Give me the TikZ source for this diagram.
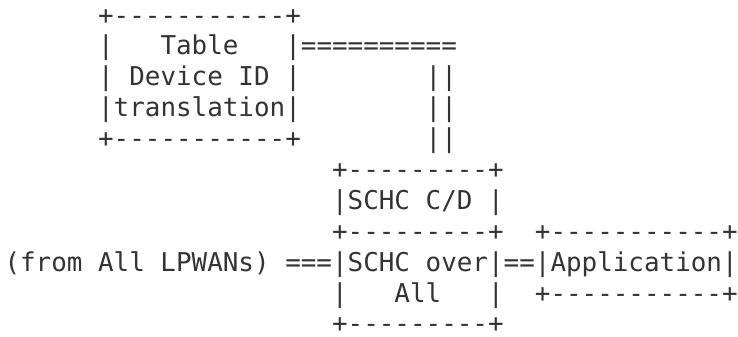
\documentclass[tikz,border=0pt]{standalone}
\usepackage{fontspec}
\setmonofont{DejaVu Sans Mono}
\usepackage{tikz}
\usetikzlibrary{positioning}
\definecolor{inkgray}{HTML}{333333}

\begin{document}
\begin{tikzpicture}[
    x=15.6pt, y=-30.9pt,
    ascii/.style={font=\fontsize{25.91pt}{31pt}\selectfont\ttfamily, text=inkgray, anchor=base west, inner sep=0pt, outer sep=0pt},
    link/.style={ascii}
]
\useasboundingbox (-0.29,-0.777) rectangle (47.02,10.129);

% translation table
\node (tabtop) [ascii] at (6,0) {+-----------+};
\node (tabname) [ascii] at (6,1) {|~~~Table~~~|};
\node (tabdev) [ascii] at (6,2) {|~Device~ID~|};
\node (tabtrans) [ascii] at (6,3) {|translation|};
\node (tabbot) [ascii] at (6,4) {+-----------+};

% double line down to SCHC C/D
\node (linkh) [link] at (19,1) {==========};
\node (linkv1) [link] at (27,2) {||};
\node (linkv2) [link] at (27,3) {||};
\node (linkv3) [link] at (27,4) {||};

% SCHC C/D on top of SCHC over All
\node (cdtop) [ascii] at (21,5) {+---------+};
\node (cdname) [ascii] at (21,6) {|SCHC~C/D~|};
\node (cdbot) [ascii] at (21,7) {+---------+};
\node (overname) [ascii] at (21,8) {|SCHC~over|};
\node (overall) [ascii] at (21,9) {|~~~All~~~|};
\node (overbot) [ascii] at (21,10) {+---------+};

% application
\node (apptop) [ascii] at (34,7) {+-----------+};
\node (appname) [ascii] at (34,8) {|Application|};
\node (appbot) [ascii] at (34,9) {+-----------+};

% links on the middle row
\node (lpwan) [link] at (0,8) {(from~All~LPWANs)~===};
\node (applink) [link] at (32,8) {==};

\end{tikzpicture}
\end{document}
